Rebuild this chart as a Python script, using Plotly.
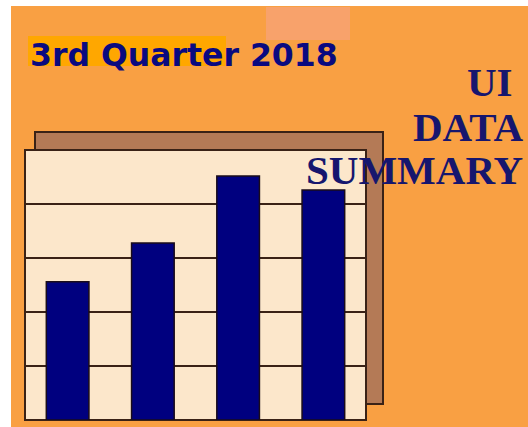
import plotly.graph_objects as go

categories = ["Bar 1", "Bar 2", "Bar 3", "Bar 4"]
values = [2.56, 3.28, 4.52, 4.26]
grid_ticks = [0, 1, 2, 3, 4, 5]
title_text = "3rd Quarter 2018"
side_lines = ["UI", "DATA", "SUMMARY"]

W, H = 528, 427
PL, PR, PT, PB = 25, 366, 150, 420  # plot area in pixels


def px(x):
    return (x - PL) / (PR - PL)


def py(y):
    return (PB - y) / (PB - PT)


ORANGE = "#F9A043"
CREAM = "#FCE7CB"
BROWN = "#B47A56"
DARK = "#3A2216"
NAVY = "#00007F"

fig = go.Figure()
fig.add_trace(go.Bar(
    x=categories, y=values,
    marker=dict(color=NAVY, line=dict(color="#1A0C1A", width=1.5)),
    hoverinfo="skip",
))

shapes = [
    # orange background
    dict(type="rect", xref="paper", yref="paper", layer="below",
         x0=px(11), x1=px(529), y0=py(427), y1=py(6),
         fillcolor=ORANGE, line=dict(width=0)),
    # pink blob
    dict(type="rect", xref="paper", yref="paper", layer="below",
         x0=px(266), x1=px(350), y0=py(40), y1=py(7),
         fillcolor="#F8A27C", opacity=0.7, line=dict(width=0)),
    # title highlight
    dict(type="rect", xref="paper", yref="paper", layer="below",
         x0=px(28), x1=px(226), y0=py(66), y1=py(36),
         fillcolor="#FFA700", line=dict(width=0)),
    # brown shadow panel
    dict(type="rect", xref="paper", yref="paper", layer="below",
         x0=px(35), x1=px(383), y0=py(404), y1=py(132),
         fillcolor=BROWN, line=dict(color=DARK, width=2)),
    # cream panel
    dict(type="rect", xref="paper", yref="paper", layer="below",
         x0=px(25), x1=px(366), y0=py(420), y1=py(150),
         fillcolor=CREAM, line=dict(color=DARK, width=2)),
]

annotations = [
    dict(text=f"<b>{title_text}</b>", xref="paper", yref="paper",
         x=px(28), y=py(35), xanchor="left", yanchor="top", showarrow=False,
         font=dict(family="DejaVu Sans", size=31.5, color="#0A0A80")),
]
side_right = [515, 525, 525]
side_top = [57, 102, 145]
for line, xr, yt in zip(side_lines, side_right, side_top):
    annotations.append(dict(
        text=f"<b>{line}</b>", xref="paper", yref="paper",
        x=px(xr), y=py(yt), xanchor="right", yanchor="top", showarrow=False,
        font=dict(family="Liberation Serif", size=41, color="#16166E"),
    ))

fig.update_layout(
    width=W, height=H,
    margin=dict(l=PL, r=W - PR, t=PT, b=H - PB, pad=0),
    paper_bgcolor="white",
    plot_bgcolor=CREAM,
    showlegend=False,
    bargap=0.5,
    shapes=shapes,
    annotations=annotations,
    xaxis=dict(showticklabels=False, showgrid=False, zeroline=False,
               showline=False, ticks=""),
    yaxis=dict(range=[0, 5], tickvals=grid_ticks, showticklabels=False,
               showgrid=True, gridcolor=DARK, gridwidth=2, zeroline=False,
               showline=False, ticks=""),
)

fig.write_html(
    "out.html",
    config={"displayModeBar": False},
    post_script="document.body.style.margin='0';document.body.style.overflow='hidden';",
)
